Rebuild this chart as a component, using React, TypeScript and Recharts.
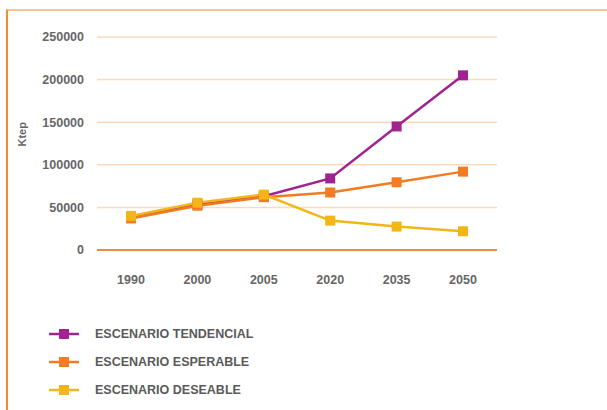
import React from 'react';
import { LineChart, Line, XAxis, YAxis, CartesianGrid, ReferenceLine } from 'recharts';

const years = ['1990', '2000', '2005', '2020', '2035', '2050'];
const tendencial = [38500, 53500, 63000, 84000, 145000, 205000];
const esperable = [37000, 52000, 62000, 67500, 79500, 92000];
const deseable = [40000, 55500, 65000, 34500, 27500, 22000];
const yTicks = [0, 50000, 100000, 150000, 200000, 250000];

const series = [
  { key: 'tendencial', name: 'ESCENARIO TENDENCIAL', color: '#a1238f' },
  { key: 'esperable', name: 'ESCENARIO ESPERABLE', color: '#f47b20' },
  { key: 'deseable', name: 'ESCENARIO DESEABLE', color: '#f4b616' },
];

const data = years.map((year, i) => ({
  year,
  tendencial: tendencial[i],
  esperable: esperable[i],
  deseable: deseable[i],
}));

const font = '"Liberation Sans", Arial, sans-serif';

const squareDot = (color: string) => (props: any) => {
  const { cx, cy, index } = props;
  return <rect key={`d-${color}-${index}`} x={cx - 5} y={cy - 5} width={10} height={10} fill={color} />;
};

// legend drawn as plain html so it does not eat into the plot height
const LegendBox = () => (
  <div style={{ position: 'absolute', left: 48, top: 320, fontFamily: font }}>
    {series.map((s) => (
      <div key={s.key} style={{ display: 'flex', alignItems: 'center', height: 28 }}>
        <svg width={32} height={12}>
          <line x1={1} y1={6} x2={31} y2={6} stroke={s.color} strokeWidth={2.5} />
          <rect x={11} y={1} width={10} height={10} fill={s.color} />
        </svg>
        <span style={{ marginLeft: 15, fontSize: 12.5, fontWeight: 'bold', color: '#5a5a5a' }}>{s.name}</span>
      </div>
    ))}
  </div>
);

export default function App() {
  return (
    <div style={{ position: 'absolute', left: 0, top: 0, width: 607, height: 410, background: '#fff', overflow: 'hidden' }}>
      <div
        style={{
          position: 'absolute',
          left: 6,
          top: 9,
          width: 620,
          height: 420,
          borderTop: '2px solid #fcc396',
          borderLeft: '2px solid #f58a2e',
        }}
      />
      <LineChart
        width={607}
        height={410}
        data={data}
        margin={{ top: 37, right: 110, left: 22, bottom: 130 }}
        style={{ position: 'absolute', left: 0, top: 0 }}
      >
        <CartesianGrid vertical={false} stroke="#fdd9bd" strokeWidth={1.5} />
        <XAxis
          dataKey="year"
          axisLine={false}
          tickLine={false}
          tickMargin={19}
          height={30}
          padding={{ left: 34, right: 34 }}
          tick={{ fill: '#666', fontSize: 12.5, fontWeight: 'bold', fontFamily: font }}
        />
        <YAxis
          width={75}
          domain={[0, 250000]}
          ticks={yTicks}
          axisLine={false}
          tickLine={false}
          tickMargin={7}
          tick={{ fill: '#666', fontSize: 12.5, fontWeight: 'bold', fontFamily: font }}
          label={{ value: 'Ktep', angle: -90, position: 'insideLeft', offset: 0, dx: 0, dy: 3, fill: '#666', fontSize: 11, fontWeight: 'bold', fontFamily: font }}
        />
        <ReferenceLine y={0} stroke="#f58a3c" strokeWidth={2} />
        {series.map((s) => (
          <Line
            key={s.key}
            dataKey={s.key}
            name={s.name}
            type="linear"
            stroke={s.color}
            strokeWidth={2.5}
            dot={squareDot(s.color)}
            activeDot={false}
            isAnimationActive={false}
          />
        ))}
      </LineChart>
      <LegendBox />
    </div>
  );
}
